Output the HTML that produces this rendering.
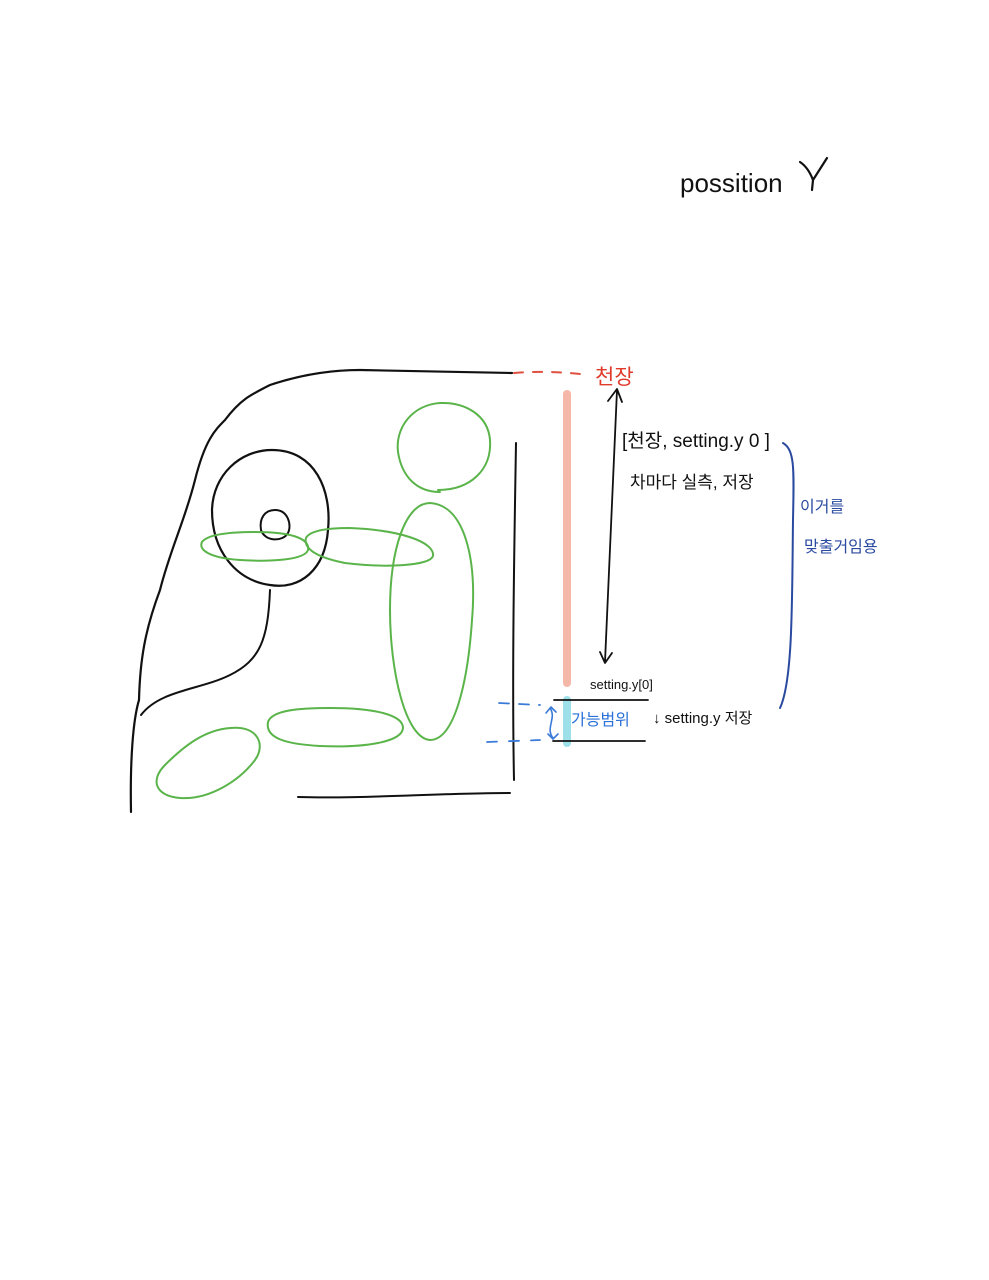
<!DOCTYPE html>
<html><head><meta charset="utf-8"><style>
html,body{margin:0;padding:0;background:#fff;}
svg{display:block;}
text{font-family:"Liberation Sans","Noto Sans CJK KR",sans-serif;}
</style></head><body>
<svg width="989" height="1280" viewBox="0 0 989 1280">
<g fill="none" stroke-linecap="round" stroke-linejoin="round">
<!-- seat outline black -->
<path stroke="#111" stroke-width="2.2" d="M131 812 C130 760 133 720 139 700 C140 660 145 630 160 590 C170 550 185 520 195 480 C205 440 215 430 225 420 C240 400 250 395 270 385 C300 375 330 370 360 370 L512 373"/>
<path stroke="#111" stroke-width="2" d="M141 715 C160 690 200 690 230 675 C260 660 268 640 270 590"/>
<path stroke="#111" stroke-width="2.2" d="M272 450 C315 450 332 490 328 530 C325 570 300 590 270 585 C235 580 212 550 212 510 C213 475 240 450 272 450 Z"/>
<path stroke="#111" stroke-width="2" d="M275 510 C288 510 292 525 288 533 C283 542 265 542 261 530 C259 518 265 510 275 510 Z"/>
<path stroke="#111" stroke-width="2" d="M516 443 C514 560 512 680 514 780"/>
<path stroke="#111" stroke-width="2" d="M298 797 C360 799 440 793 510 793"/>
<!-- green shapes -->
<g stroke="#5ab44a" stroke-width="2">
<path d="M438 490 C470 490 492 470 490 440 C488 415 465 402 440 403 C412 405 395 428 398 452 C402 478 418 492 440 492"/>
<path d="M430 503 C465 505 477 560 472 620 C468 680 455 740 430 740 C405 738 390 670 390 610 C390 550 405 503 430 503 Z"/>
<path d="M255 532 C290 532 310 538 308 550 C305 560 270 562 240 560 C210 558 198 550 202 542 C208 534 230 532 255 532 Z"/>
<path d="M350 528 C400 530 435 542 433 556 C430 566 385 568 345 563 C320 558 303 550 306 538 C310 530 330 528 350 528 Z"/>
<path d="M330 708 C375 708 403 715 403 728 C402 742 365 748 320 746 C285 744 265 738 268 722 C272 710 300 708 330 708 Z"/>
<path d="M230 728 C258 725 266 745 255 760 C240 780 210 800 180 798 C155 796 150 780 165 765 C185 745 205 730 230 728 Z"/>
</g>
<!-- red dashed ceiling -->
<path stroke="#e05040" stroke-width="2" stroke-dasharray="9 10" d="M514 373 C540 371 560 372 580 374"/>
<!-- pink bar -->
<line x1="567" y1="394" x2="567" y2="683" stroke="#f5b8a8" stroke-width="8"/>
<line x1="567" y1="700" x2="567" y2="743" stroke="#9ee0ea" stroke-width="8"/>
<!-- arrow -->
<path stroke="#111" stroke-width="1.8" d="M617 390 L605 662 M608 401 L617 389 L622 402 M600 652 L605 663 L612 653"/>
<!-- black lines -->
<path stroke="#111" stroke-width="1.8" d="M554 700 L648 700"/>
<path stroke="#111" stroke-width="1.8" d="M553 741 L645 741"/>
<!-- blue dashes -->
<path stroke="#3a7ad8" stroke-width="1.8" stroke-dasharray="10 10" d="M499 703 L540 705"/>
<path stroke="#3a7ad8" stroke-width="1.8" stroke-dasharray="10 12" d="M487 742 L540 740"/>
<path stroke="#3a7ad8" stroke-width="1.6" d="M550 708 C557 718 545 728 553 738 M546 713 L551 707 L556 712 M548 734 L553 739 L558 734"/>
<!-- blue bracket -->
<path stroke="#2a4aa0" stroke-width="2" d="M783 443 C795 450 794 470 793 520 C792 600 793 680 780 708"/>
<!-- Y letter -->
<path stroke="#111" stroke-width="2.2" d="M800 162 C806 166 810 172 813 180 L827 158 M813 180 L812 190"/>
</g>
<text x="680" y="192" font-size="26" fill="#111">possition</text>
<text x="595" y="384" font-size="21" fill="#e03a2a">천장</text>
<text x="622" y="447" font-size="19" fill="#111">[천장, setting.y 0 ]</text>
<text x="630" y="488" font-size="17" fill="#111">차마다 실측, 저장</text>
<text x="800" y="512" font-size="16" fill="#2a4aa0">이거를</text>
<text x="804" y="552" font-size="16" fill="#2a4aa0">맞출거임용</text>
<text x="590" y="689" font-size="13" fill="#111">setting.y[0]</text>
<text x="571" y="725" font-size="16" fill="#2a70d8">가능범위</text>
<text x="653" y="723" font-size="15" fill="#111">↓ setting.y 저장</text>
</svg>
</body></html>
